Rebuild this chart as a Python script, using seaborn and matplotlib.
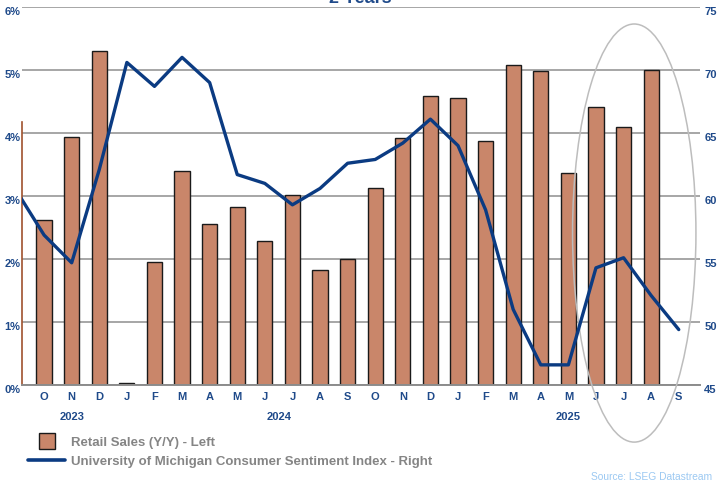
import matplotlib
matplotlib.use("Agg")
import matplotlib.pyplot as plt
from matplotlib.lines import Line2D
from matplotlib.patches import Ellipse
import seaborn as sns
import pandas as pd
import numpy as np

# months shown on the x axis (Oct 2023 .. Sep 2025)
months = ["O", "N", "D", "J", "F", "M", "A", "M", "J", "J", "A", "S",
          "O", "N", "D", "J", "F", "M", "A", "M", "J", "J", "A", "S"]
years = ["2023", "2024", "2025"]
year_pos = [1, 8.5, 19]

# retail sales y/y (%), Oct 2023 .. Aug 2025
retail = [2.62, 3.93, 5.30, 0.03, 1.96, 3.40, 2.56, 2.82, 2.29, 3.02, 1.83, 2.00,
          3.12, 3.92, 4.58, 4.56, 3.87, 5.08, 4.98, 3.37, 4.42, 4.09, 5.00]

# UMich sentiment (right axis), Sep 2023 .. Sep 2025
sentiment = [60.4, 56.9, 54.7, 62.1, 70.6, 68.7, 71.0, 69.0, 61.7, 61.0, 59.3, 60.6,
             62.6, 62.9, 64.2, 66.1, 64.0, 58.9, 51.0, 46.6, 46.6, 54.3, 55.1, 52.1, 49.4]

BLUE = "#1F4A8A"
LINE = "#0B3B82"
BAR = "#C9866A"
GRID = "#A6A6A6"

bars_df = pd.DataFrame({"x": np.arange(len(retail)), "retail": retail})
line_df = pd.DataFrame({"x": np.arange(-1, len(sentiment) - 1), "sent": sentiment})

sns.set_style("white")
plt.rcParams["font.family"] = ["Liberation Sans", "DejaVu Sans"]

fig = plt.figure(figsize=(7.17, 4.82), dpi=100)
ax = fig.add_axes([0.0307, 0.2012, 0.9456, 0.7843])

ax.set_axisbelow(True)
ax.yaxis.grid(True, color=GRID, linewidth=1.4)
sns.barplot(data=bars_df, x="x", y="retail", native_scale=True, width=0.55,
            color=BAR, edgecolor="#1a1a1a", linewidth=1.0, saturation=1, ax=ax)
ax.set_xlim(-0.8, 23.77)
ax.set_ylim(0, 6)
ax.set_yticks(range(7))
ax.set_yticklabels([f"{v}%" for v in range(7)])
ax.set_xticks(range(len(months)))
ax.set_xticklabels(months)
ax.set_xlabel("")
ax.set_ylabel("")
for s in ["top", "right"]:
    ax.spines[s].set_visible(False)
ax.spines["bottom"].set_color("#8C8C8C")
ax.spines["bottom"].set_linewidth(1.4)
ax.spines["left"].set_color("#A0522D")
ax.spines["left"].set_linewidth(1.2)
ax.spines["left"].set_bounds(0, 4.17)
ax.tick_params(axis="y", length=0, pad=1, labelsize=8, labelcolor=BLUE)
ax.tick_params(axis="x", length=0, pad=5, labelsize=8, labelcolor=BLUE)
for lab in ax.get_yticklabels():
    lab.set_fontweight("bold")
    lab.set_verticalalignment("top")
for lab in ax.get_xticklabels():
    lab.set_fontweight("bold")

for yr, p in zip(years, year_pos):
    ax.text(p, -0.5, yr, ha="center", va="center", fontsize=8, fontweight="bold",
            color=BLUE, transform=ax.transData, clip_on=False)

ax2 = ax.twinx()
sns.lineplot(data=line_df, x="x", y="sent", color=LINE, linewidth=2.4, ax=ax2)
ax2.set_xlim(-0.8, 23.77)
ax2.set_ylim(45, 75)
ax2.set_yticks(range(45, 76, 5))
ax2.set_ylabel("")
for s in ["top", "right", "left", "bottom"]:
    ax2.spines[s].set_visible(False)
ax2.tick_params(axis="y", length=0, pad=3, labelsize=8, labelcolor=BLUE)
for lab in ax2.get_yticklabels():
    lab.set_fontweight("bold")
    lab.set_verticalalignment("top")

ax2.add_patch(Ellipse((0.903, 0.402), 0.182, 1.106, transform=ax2.transAxes,
                      fill=False, edgecolor="#BDBDBD", linewidth=1.1, clip_on=False))

handles = [
    Line2D([], [], marker="s", linestyle="none", markersize=11,
           markerfacecolor=BAR, markeredgecolor="#1a1a1a"),
    Line2D([], [], color=LINE, linewidth=2.6),
]
fig.legend(handles, ["Retail Sales (Y/Y) - Left",
                     "University of Michigan Consumer Sentiment Index - Right"],
           loc="upper left", bbox_to_anchor=(0.03, 0.108), frameon=False,
           labelcolor="#858585", handlelength=2.8,
           handletextpad=0.45, labelspacing=0.5, borderpad=0,
           prop={"weight": "bold", "size": 9.5})

fig.text(0.503, 1 - 3 / 482, "2 Years", ha="center", va="baseline",
         fontsize=13, fontweight="bold", color=BLUE)
fig.text(0.824, 0.0, "Source: LSEG Datastream", ha="left", va="bottom",
         fontsize=7.4, color="#9CC9F2")

fig.savefig("out.png", dpi=100)
